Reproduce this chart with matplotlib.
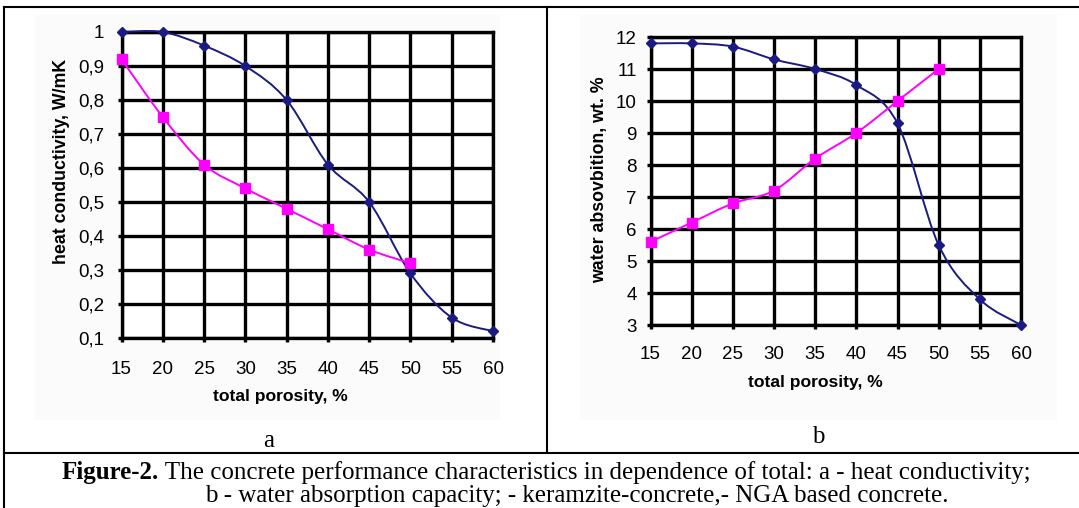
import matplotlib
matplotlib.use("Agg")
import matplotlib.pyplot as plt
from matplotlib.path import Path
from matplotlib.patches import PathPatch, Rectangle
from matplotlib.lines import Line2D

plt.rcParams["font.family"] = ["Liberation Sans", "DejaVu Sans"]

# === Data ===
porosity = [15, 20, 25, 30, 35, 40, 45, 50, 55, 60]
porosity_nga = [15, 20, 25, 30, 35, 40, 45, 50]

heat_keramzite = [1.0, 1.0, 0.96, 0.90, 0.80, 0.61, 0.50, 0.29, 0.16, 0.12]
heat_nga = [0.92, 0.75, 0.61, 0.54, 0.48, 0.42, 0.36, 0.32]

water_keramzite = [11.8, 11.8, 11.7, 11.3, 11.0, 10.5, 9.3, 5.5, 3.8, 3.0]
water_nga = [5.6, 6.2, 6.8, 7.2, 8.2, 9.0, 10.0, 11.0]

heat_ticks = [0.1, 0.2, 0.3, 0.4, 0.5, 0.6, 0.7, 0.8, 0.9, 1.0]
heat_ticklabels = ["0,1", "0,2", "0,3", "0,4", "0,5", "0,6", "0,7", "0,8", "0,9", "1"]
water_ticks = [3, 4, 5, 6, 7, 8, 9, 10, 11, 12]

NAVY = "#1a1a82"
MAGENTA = "#ff00ff"

W, H = 1079, 508
serif = ["Liberation Serif", "DejaVu Serif"]


def smooth_path(xs, ys):
    # Excel-style smoothed line: cubic bezier segments through the points
    pts = list(zip(xs, ys))
    verts = [pts[0]]
    codes = [Path.MOVETO]
    n = len(pts)
    for i in range(n - 1):
        p0 = pts[i - 1] if i > 0 else pts[i]
        p1 = pts[i]
        p2 = pts[i + 1]
        p3 = pts[i + 2] if i + 2 < n else pts[i + 1]
        c1 = (p1[0] + (p2[0] - p0[0]) / 6, p1[1] + (p2[1] - p0[1]) / 6)
        c2 = (p2[0] - (p3[0] - p1[0]) / 6, p2[1] - (p3[1] - p1[1]) / 6)
        verts += [c1, c2, p2]
        codes += [Path.CURVE4] * 3
    return Path(verts, codes)


def draw_series(ax, xs, ys, color, marker, msize):
    ax.add_patch(PathPatch(smooth_path(xs, ys), fill=False, edgecolor=color,
                           lw=1.4, zorder=3, clip_on=False))
    ax.plot(xs, ys, linestyle="none", marker=marker, color=color,
            markersize=msize, zorder=4, clip_on=False)


def px_axes(x0, y0, x1, y1):
    return fig.add_axes([x0 / W, 1 - y1 / H, (x1 - x0) / W, (y1 - y0) / H])


def style_axes(ax, xpad, ypad):
    ax.set_xlim(15, 60)
    ax.set_xticks(porosity)
    ax.grid(True, color="black", lw=2.4)
    ax.set_axisbelow(True)
    for s in ax.spines.values():
        s.set_linewidth(2.4)
    ax.tick_params(axis="both", direction="out", length=3, width=2.4, labelsize=13.5)
    ax.tick_params(axis="x", pad=xpad)
    ax.tick_params(axis="y", pad=ypad)


def place_labels(ax, xlabel, xpos, ylabel, ypos):
    ax.set_xlabel(xlabel, fontsize=12.6, fontweight="bold")
    ax.set_ylabel(ylabel, fontsize=12.8, fontweight="bold")
    ax.xaxis.set_label_coords(xpos[0] / W, 1 - xpos[1] / H, transform=fig.transFigure)
    ax.yaxis.set_label_coords(ypos[0] / W, 1 - ypos[1] / H, transform=fig.transFigure)
    ax.xaxis.label.set_va("center")
    ax.yaxis.label.set_va("center")


fig = plt.figure(figsize=(W / 100, H / 100), dpi=100)

# very faint grey chart areas (as in the Excel export)
for x0, x1 in [(35, 500), (580, 1057)]:
    fig.add_artist(Rectangle((x0 / W, 1 - 420 / H), (x1 - x0) / W, 405 / H,
                             transform=fig.transFigure, facecolor="#fbfbfb",
                             edgecolor="none", zorder=0))

# === a: heat conductivity ===
ax1 = px_axes(121.5, 32, 493, 338)
style_axes(ax1, xpad=13.5, ypad=9.5)
ax1.set_ylim(0.1, 1.0)
ax1.set_yticks(heat_ticks)
ax1.set_yticklabels(heat_ticklabels)
draw_series(ax1, porosity, heat_keramzite, NAVY, "D", 5)
draw_series(ax1, porosity_nga, heat_nga, MAGENTA, "s", 7.5)
place_labels(ax1, "total porosity, %", (280, 396), "heat conductivity, W/mK", (62, 161))

# === b: water absorption ===
ax2 = px_axes(650.5, 37, 1021, 325)
style_axes(ax2, xpad=11.8, ypad=7)
ax2.set_ylim(3, 12)
ax2.set_yticks(water_ticks)
draw_series(ax2, porosity, water_keramzite, NAVY, "D", 5)
draw_series(ax2, porosity_nga, water_nga, MAGENTA, "s", 7.5)
place_labels(ax2, "total porosity, %", (815, 382), "water absovbition, wt. %", (600, 180))

for ax in (ax1, ax2):
    ax.patch.set_facecolor("white")


# === table frame ===
def fline(x0, y0, x1, y1, lw=1.5):
    fig.add_artist(Line2D([x0 / W, x1 / W], [1 - y0 / H, 1 - y1 / H],
                          color="black", lw=lw))

fline(4, 7, 1079, 7)
fline(4, 7, 4, 508)
fline(547, 7, 547, 453)
fline(4, 453, 1079, 453)

fig.text(269 / W, 1 - 447 / H, "a", ha="center", va="baseline", fontsize=18, family=serif)
fig.text(818 / W, 1 - 443 / H, "b", ha="center", va="baseline", fontsize=18, family=serif)

# caption: bold prefix + regular text; font size fitted to the line width
fig.canvas.draw()
r = fig.canvas.get_renderer()
cap_bold = "Figure-2."
cap_rest = " The concrete performance characteristics in dependence of total: a - heat conductivity;"
cap_line2 = "b - water absorption capacity; - keramzite-concrete,- NGA based concrete."
tb = fig.text(62 / W, 1 - 479 / H, cap_bold, fontsize=16, fontweight="bold",
              family=serif, va="baseline")
tr = fig.text(0, 1 - 479 / H, cap_rest, fontsize=16, family=serif, va="baseline")
total = tb.get_window_extent(r).width + tr.get_window_extent(r).width
size = 16 * 970 / total
tb.set_fontsize(size)
tr.set_fontsize(size)
tr.set_x((62 + tb.get_window_extent(r).width) / W)
fig.text(577 / W, 1 - 502 / H, cap_line2, fontsize=size, family=serif,
         ha="center", va="baseline")

fig.savefig("out.png", dpi=100)
